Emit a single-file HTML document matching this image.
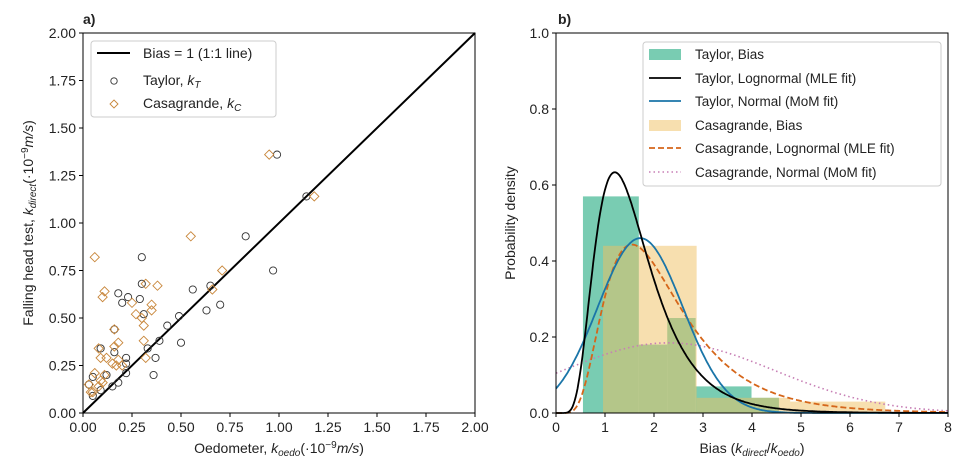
<!DOCTYPE html>
<html><head><meta charset="utf-8"><style>
html,body{margin:0;padding:0;background:#fff;}
svg{display:block;font-family:"Liberation Sans",Arial,sans-serif;}
</style></head><body>
<svg id="chart" width="971" height="474" viewBox="0 0 971 474"></svg>
<script>
// ---- Panel a data ----
const taylorX=[0.99,1.14,0.83,0.97,0.30,0.30,0.56,0.65,0.18,0.23,0.29,0.20,0.63,0.70,0.31,0.49,0.43,0.39,0.50,0.33,0.16,0.09,0.16,0.22,0.37,0.22,0.22,0.36,0.18,0.15,0.05,0.03,0.12,0.05,0.09];
const taylorY=[1.36,1.14,0.93,0.75,0.82,0.68,0.65,0.67,0.63,0.61,0.60,0.58,0.54,0.57,0.52,0.51,0.46,0.38,0.37,0.34,0.44,0.34,0.32,0.29,0.29,0.26,0.21,0.20,0.16,0.14,0.19,0.15,0.20,0.09,0.12];
const casaX=[0.95,1.18,0.55,0.06,0.71,0.32,0.38,0.11,0.10,0.66,0.25,0.35,0.35,0.27,0.30,0.31,0.16,0.18,0.31,0.16,0.08,0.09,0.12,0.18,0.20,0.32,0.17,0.15,0.03,0.04,0.09,0.10,0.08,0.11,0.05,0.06];
const casaY=[1.36,1.14,0.93,0.82,0.75,0.68,0.67,0.64,0.61,0.65,0.58,0.57,0.54,0.52,0.50,0.46,0.44,0.37,0.38,0.35,0.34,0.29,0.29,0.28,0.25,0.29,0.25,0.26,0.15,0.11,0.17,0.16,0.14,0.20,0.11,0.21];
const aTicks=[0,0.25,0.5,0.75,1.0,1.25,1.5,1.75,2.0];
// ---- Panel b data ----
const taylorEdges=[0.55,1.69,2.27,2.85,3.99,4.55];
const taylorDens=[0.57,0.18,0.25,0.07,0.04];
const casaEdges=[0.96,2.87,4.78,6.72];
const casaDens=[0.44,0.04,0.03];
const taylorLogn=[0.403,0.47];   // mu, sigma
const taylorNorm=[1.72,0.867];   // mean, sd
const casaLogn=[0.698,0.51];
const casaNorm=[2.3,2.16];
const bXTicks=[0,1,2,3,4,5,6,7,8];
const bYTicks=[0,0.2,0.4,0.6,0.8,1.0];

const NS="http://www.w3.org/2000/svg";
const svg=document.getElementById('chart');
function mk(tag,attrs,parent){const e=document.createElementNS(NS,tag);for(const k in attrs)e.setAttribute(k,attrs[k]);(parent||svg).appendChild(e);return e;}
function txt(s,x,y,attrs,parent){const t=mk('text',Object.assign({x:x,y:y,'font-size':14,fill:'#222'},attrs||{}),parent);t.innerHTML=s;return t;}

// Panel a axes
const aL=83,aR=475,aT=33,aB=413;
const ax=v=>aL+(v/2)*(aR-aL), ay=v=>aB-(v/2)*(aB-aT);
const gA=mk('g',{});


const ll=mk('line',{x1:ax(0),y1:ay(0),x2:ax(2),y2:ay(2),stroke:'#000','stroke-width':2},gA);


for(let i=0;i<taylorX.length;i++){
  const c=mk('circle',{cx:ax(taylorX[i]),cy:ay(taylorY[i]),r:3.6,fill:'none',stroke:'#333','stroke-width':0.9},gA);
  
  
}
for(let i=0;i<casaX.length;i++){
  const x=ax(casaX[i]),y=ay(casaY[i]),d=4.6;
  const p=mk('polygon',{points:`${x},${y-d} ${x+d},${y} ${x},${y+d} ${x-d},${y}`,fill:'none',stroke:'#c8863a','stroke-width':0.9},gA);
  
  
}
mk('rect',{x:aL,y:aT,width:aR-aL,height:aB-aT,fill:'none',stroke:'#000','stroke-width':1},gA);
aTicks.forEach(v=>{
  mk('line',{x1:ax(v),y1:aB,x2:ax(v),y2:aB+4,stroke:'#000'},gA);
  const tx=txt(v.toFixed(2),ax(v),aB+19,{'text-anchor':'middle'},gA);
  
  
  mk('line',{x1:aL-4,y1:ay(v),x2:aL,y2:ay(v),stroke:'#000'},gA);
  const ty=txt(v.toFixed(2),aL-7,ay(v)+5,{'text-anchor':'end'},gA);
  
  
});
const axt=txt('Oedometer, <tspan font-style="italic">k</tspan><tspan font-style="italic" font-size="10" dy="3">oedo</tspan><tspan dy="-3">(·10</tspan><tspan font-size="10" dy="-5">−9</tspan><tspan dy="5" font-style="italic">m/s</tspan>)',ax(1),453,{'text-anchor':'middle'},gA);


const ayt=txt('Falling head test, <tspan font-style="italic">k</tspan><tspan font-style="italic" font-size="10" dy="3">direct</tspan><tspan dy="-3">(·10</tspan><tspan font-size="10" dy="-5">−9</tspan><tspan dy="5" font-style="italic">m/s</tspan>)',0,0,{'text-anchor':'middle',transform:`translate(33,${(aT+aB)/2}) rotate(-90)`},gA);


const ta=txt('a)',aL,24,{'font-weight':'bold'},gA);


const lgA=mk('g',{},gA);


mk('rect',{x:91,y:41,width:185,height:76,rx:3,fill:'#fff','fill-opacity':0.85,stroke:'#ccc'},lgA);
mk('line',{x1:97,y1:53,x2:130,y2:53,stroke:'#000','stroke-width':2},lgA);
txt('Bias = 1 (1:1 line)',143,58,{},lgA);
mk('circle',{cx:114,cy:81,r:3.2,fill:'none',stroke:'#333','stroke-width':0.9},lgA);
txt('Taylor, <tspan font-style="italic">k</tspan><tspan font-style="italic" font-size="10" dy="3">T</tspan>',143,85,{},lgA);
mk('polygon',{points:'114,100 118,104 114,108 110,104',fill:'none',stroke:'#c8863a','stroke-width':0.9},lgA);
txt('Casagrande, <tspan font-style="italic">k</tspan><tspan font-style="italic" font-size="10" dy="3">C</tspan>',143,108,{},lgA);

// Panel b
const bL=556,bR=948,bT=33,bB=413;
const bx=v=>bL+(v/8)*(bR-bL), by=v=>bB-v*(bB-bT);
const gB=mk('g',{});


for(let i=0;i<taylorDens.length;i++){
  const r=mk('rect',{x:bx(taylorEdges[i]),y:by(taylorDens[i]),width:bx(taylorEdges[i+1])-bx(taylorEdges[i]),height:by(0)-by(taylorDens[i]),fill:'#1faa7e','fill-opacity':0.6},gB);
  
  
}
for(let i=0;i<casaDens.length;i++){
  const r=mk('rect',{x:bx(casaEdges[i]),y:by(casaDens[i]),width:bx(casaEdges[i+1])-bx(casaEdges[i]),height:by(0)-by(casaDens[i]),fill:'#f0c060','fill-opacity':0.5},gB);
  
  
}
function lognPdf(p,x){if(x<=0)return 0;const z=(Math.log(x)-p[0])/p[1];return Math.exp(-z*z/2)/(x*p[1]*Math.sqrt(2*Math.PI));}
function normPdf(p,x){const z=(x-p[0])/p[1];return Math.exp(-z*z/2)/(p[1]*Math.sqrt(2*Math.PI));}
function curve(f,p,attrs,name){
  let d='';for(let i=0;i<=400;i++){const x=i*8/400;d+=(i?'L':'M')+bx(x).toFixed(1)+','+by(f(p,x)).toFixed(1);}
  const e=mk('path',Object.assign({d:d,fill:'none'},attrs),gB);
  
  
}
curve(normPdf,casaNorm,{stroke:'#c77fb5','stroke-width':1.6,'stroke-dasharray':'1.5 3'},'casagrande-normal-curve');
curve(lognPdf,casaLogn,{stroke:'#d5661a','stroke-width':1.8,'stroke-dasharray':'6 3'},'casagrande-lognormal-curve');
curve(normPdf,taylorNorm,{stroke:'#1a75a8','stroke-width':1.8},'taylor-normal-curve');
curve(lognPdf,taylorLogn,{stroke:'#000','stroke-width':1.8},'taylor-lognormal-curve');
mk('rect',{x:bL,y:bT,width:bR-bL,height:bB-bT,fill:'none',stroke:'#000','stroke-width':1},gB);
bXTicks.forEach(v=>{
  mk('line',{x1:bx(v),y1:bB,x2:bx(v),y2:bB+4,stroke:'#000'},gB);
  const t=txt(String(v),bx(v),bB+19,{'text-anchor':'middle'},gB);
  
  
});
bYTicks.forEach(v=>{
  mk('line',{x1:bL-4,y1:by(v),x2:bL,y2:by(v),stroke:'#000'},gB);
  const t=txt(v.toFixed(1),bL-7,by(v)+5,{'text-anchor':'end'},gB);
  
  
});
const bxt=txt('Bias (<tspan font-style="italic">k</tspan><tspan font-style="italic" font-size="10" dy="3">direct</tspan><tspan dy="-3">/</tspan><tspan font-style="italic">k</tspan><tspan font-style="italic" font-size="10" dy="3">oedo</tspan><tspan dy="-3">)</tspan>',bx(4),453,{'text-anchor':'middle'},gB);


const byt=txt('Probability density',0,0,{'text-anchor':'middle',transform:`translate(515,${(bT+bB)/2}) rotate(-90)`},gB);


const tb=txt('b)',bL+2,24,{'font-weight':'bold'},gB);


const lgB=mk('g',{},gB);


mk('rect',{x:643,y:42,width:298,height:144,rx:3,fill:'#fff','fill-opacity':0.85,stroke:'#ccc'},lgB);
const ly=[54,78,101,125,148,172];
mk('rect',{x:649,y:ly[0]-5,width:32,height:11,fill:'#1faa7e','fill-opacity':0.6},lgB);
mk('line',{x1:649,y1:ly[1],x2:681,y2:ly[1],stroke:'#000','stroke-width':1.8},lgB);
mk('line',{x1:649,y1:ly[2],x2:681,y2:ly[2],stroke:'#1a75a8','stroke-width':1.8},lgB);
mk('rect',{x:649,y:ly[3]-5,width:32,height:11,fill:'#f0c060','fill-opacity':0.5},lgB);
mk('line',{x1:649,y1:ly[4],x2:681,y2:ly[4],stroke:'#d5661a','stroke-width':1.8,'stroke-dasharray':'6 3'},lgB);
mk('line',{x1:649,y1:ly[5],x2:681,y2:ly[5],stroke:'#c77fb5','stroke-width':1.6,'stroke-dasharray':'1.5 3'},lgB);
const labs=['Taylor, Bias','Taylor, Lognormal (MLE fit)','Taylor, Normal (MoM fit)','Casagrande, Bias','Casagrande, Lognormal (MLE fit)','Casagrande, Normal (MoM fit)'];
labs.forEach((s,i)=>{const t=txt(s,695,ly[i]+5,{'font-size':13.5},lgB);});
</script>
</body></html>
